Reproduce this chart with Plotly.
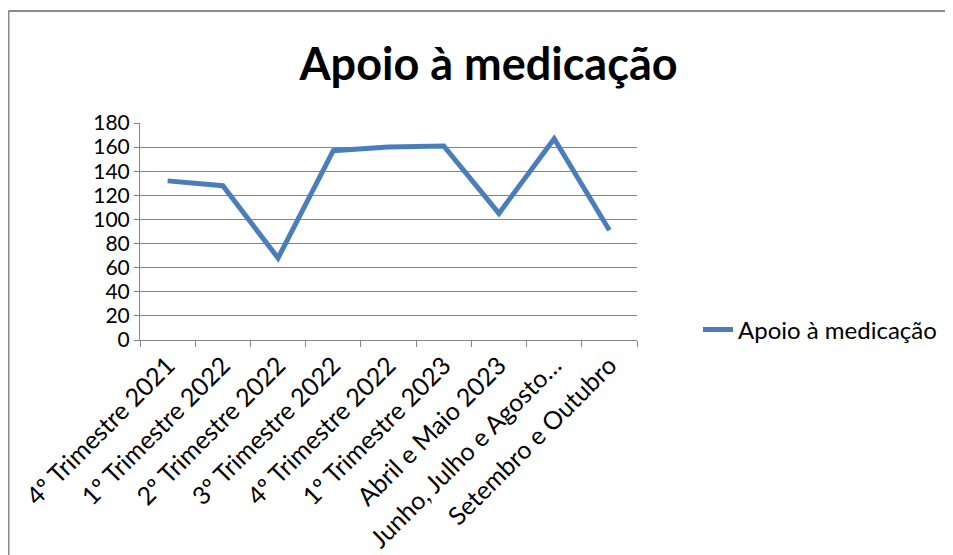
import plotly.graph_objects as go

# Dados
periodos = ["4º Trimestre 2021", "1º Trimestre 2022", "2º Trimestre 2022",
            "3º Trimestre 2022", "4º Trimestre 2022", "1º Trimestre 2023",
            "Abril e Maio 2023", "Junho, Julho e Agosto…", "Setembro e Outubro"]
valores = [132, 128, 68, 157, 160, 161, 105, 167, 91]
serie = "Apoio à medicação"
y_ticks = list(range(0, 181, 20))

# page body has an 8px margin: positions below are figure pixels (screen - 8)
W, H = 953, 555
L, R, T, B = 132, 629, 115, 332  # plot area
pw, ph = R - L, B - T
grey = "#868686"

fig = go.Figure()
fig.add_trace(go.Scatter(x=periodos, y=valores, mode="lines", name=serie,
                         line=dict(color="#4a7ebb", width=5)))

# chart frame: only the left and top edges are inside the picture
x_left, x_right = (0.5 - L) / pw, (W - L) / pw
y_top, y_bottom = (B - 3) / ph, (B - H) / ph
frame = dict(color="#898989", width=2)

fig.update_layout(
    width=W, height=H,
    margin=dict(l=L, r=W - R, t=T, b=H - B),
    plot_bgcolor="white", paper_bgcolor="white",
    font=dict(family="Lato, Open Sans, sans-serif", color="black", size=22),
    title=dict(text="<b>Apoio à medicação</b>", x=480.5 / W, xanchor="center",
               y=1 - 56 / H, yanchor="middle", font=dict(size=45)),
    showlegend=True,
    legend=dict(x=(690 - L) / pw, y=(B - 322) / ph, xanchor="left", yanchor="middle",
                font=dict(size=24), bgcolor="rgba(0,0,0,0)", itemwidth=30),
    xaxis=dict(type="category", range=[-0.5, len(periodos) - 0.5], tickangle=-45,
               tickfont=dict(size=25), showgrid=False, automargin=False,
               showline=True, linecolor=grey, linewidth=1,
               ticks="outside", tickson="boundaries", ticklen=6, tickcolor=grey),
    yaxis=dict(range=[0, 180], tickvals=y_ticks, showgrid=True, gridcolor=grey,
               gridwidth=1, showline=True, linecolor=grey, linewidth=1,
               ticks="outside", ticklen=5, tickcolor=grey, zeroline=False,
               tickfont=dict(size=21), automargin=False),
    shapes=[
        dict(type="line", xref="paper", yref="paper", x0=x_left, x1=x_left,
             y0=y_bottom, y1=y_top, line=frame, layer="below"),
        dict(type="line", xref="paper", yref="paper", x0=x_left, x1=x_right,
             y0=y_top, y1=y_top, line=frame, layer="below"),
    ],
)

fig.write_html("out.html")
